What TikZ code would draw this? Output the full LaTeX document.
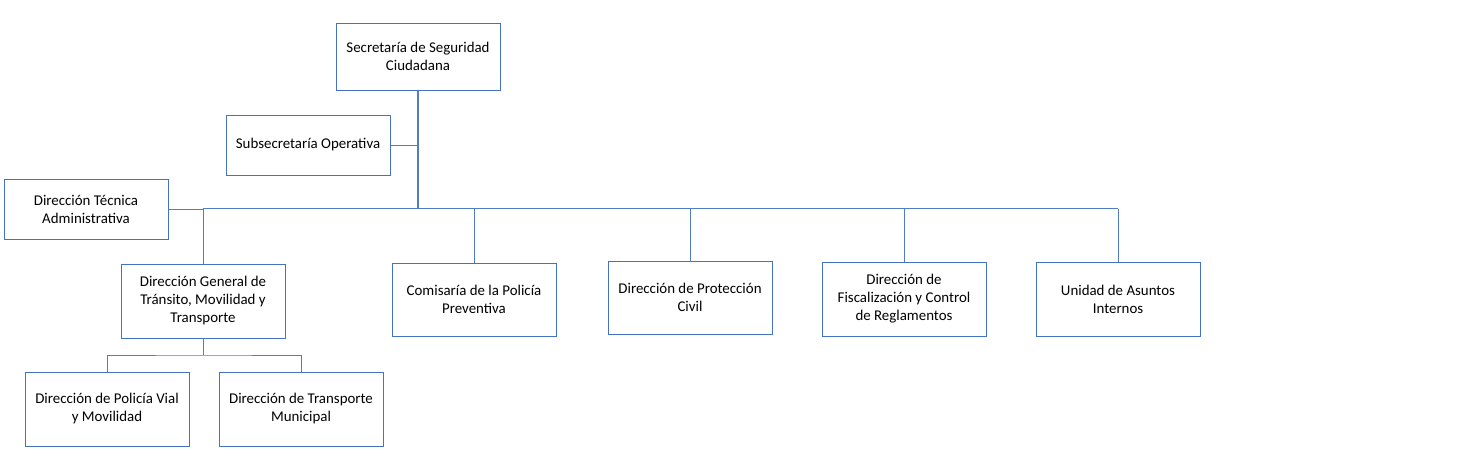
\documentclass[tikz,border=0pt]{standalone}
\usepackage{fontspec}
\setmainfont{Carlito}
\definecolor{boxblue}{RGB}{68,114,196}
\definecolor{lineblue}{RGB}{80,125,200}
\begin{document}
\begin{tikzpicture}[x=1pt,y=-1pt,
  unit/.style={draw=boxblue,line width=1pt,rectangle,minimum width=164pt,inner sep=0pt,align=center,
    font=\fontsize{14.9}{18}\selectfont,text=black},
  link/.style={draw=lineblue,line width=1pt},
  trunk/.style={draw=lineblue,line width=1.6pt}]
\useasboundingbox (0,0) rectangle (1480,461);
\node[unit,minimum height=67pt] (sec) at (418,56.5) {Secretaría de Seguridad\\Ciudadana};
\node[unit,minimum height=60pt] (sub) at (308,145) {Subsecretaría Operativa};
\node[unit,minimum height=60pt] (dta) at (86,209) {Dirección Técnica\\Administrativa};
\node[unit,minimum height=74pt] (dgt) at (203,301) {Dirección General de\\Tránsito, Movilidad y\\Transporte};
\node[unit,minimum height=73pt] (cpp) at (474,299.5) {Comisaría de la Policía\\Preventiva};
\node[unit,minimum height=73pt] (dpc) at (690,297.5) {Dirección de Protección\\Civil};
\node[unit,minimum height=74pt] (dfc) at (904,299) {Dirección de\\Fiscalización y Control\\de Reglamentos};
\node[unit,minimum height=74pt] (uai) at (1118,299) {Unidad de Asuntos\\Internos};
\node[unit,minimum height=74pt] (dpv) at (107,409) {Dirección de Policía Vial\\y Movilidad};
\node[unit,minimum height=74pt] (dtm) at (301,409) {Dirección de Transporte\\Municipal};
\coordinate (bus) at (418,208.5);
\coordinate (sbus) at (203,355);
\draw[trunk] (sec.south) -- (bus);
\draw[trunk] (bus) -- (bus -| dgt.north);
\draw[link] (sub.east) -- (sub.east -| sec.south);
\draw[link] (dta.east) -- (dta.east -| dgt.north);
\draw[link] (bus) -- (bus -| uai.north);
\draw[link] (dgt.north) -- (dgt.north |- bus);
\draw[link] (cpp.north) -- (cpp.north |- bus);
\draw[link] (dpc.north) -- (dpc.north |- bus);
\draw[link] (dfc.north) -- (dfc.north |- bus);
\draw[link] (uai.north) -- (uai.north |- bus);
\draw[link] (dgt.south) -- (sbus);
\draw[link] (dpv.north) |- (sbus) -| (dtm.north);
\end{tikzpicture}
\end{document}
